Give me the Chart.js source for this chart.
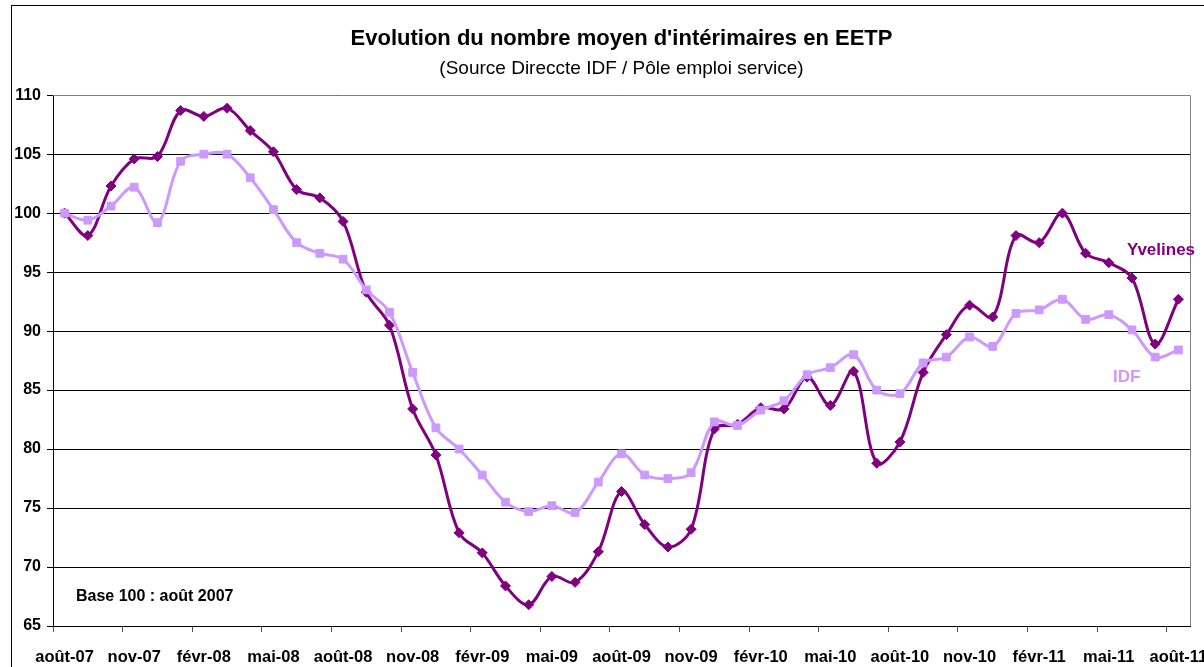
<!DOCTYPE html>
<html>
<head>
<meta charset="utf-8">
<script src="https://cdn.jsdelivr.net/npm/chart.js@4"></script>
<style>
  html, body { margin: 0; padding: 0; background: #fff; }
  #wrap { width: 1204px; height: 667px; }
</style>
</head>
<body>
<div id="wrap"><canvas id="chart" width="1204" height="667"></canvas></div>
<script>
// monthly, août-07 .. août-11
const months = [
  "août-07", "sept-07", "oct-07", "nov-07", "déc-07", "janv-08", "févr-08", "mars-08", "avr-08",
  "mai-08", "juin-08", "juil-08", "août-08", "sept-08", "oct-08", "nov-08", "déc-08", "janv-09",
  "févr-09", "mars-09", "avr-09", "mai-09", "juin-09", "juil-09", "août-09", "sept-09", "oct-09",
  "nov-09", "déc-09", "janv-10", "févr-10", "mars-10", "avr-10", "mai-10", "juin-10", "juil-10",
  "août-10", "sept-10", "oct-10", "nov-10", "déc-10", "janv-11", "févr-11", "mars-11", "avr-11",
  "mai-11", "juin-11", "juil-11", "août-11"
];

const yvelines = [
  100.0, 98.1, 102.3, 104.6, 104.8, 108.7, 108.2, 108.9, 107.0,
  105.2, 102.0, 101.3, 99.3, 93.3, 90.5, 83.4, 79.5, 72.9,
  71.2, 68.4, 66.8, 69.2, 68.7, 71.3, 76.4, 73.6, 71.7,
  73.2, 81.7, 82.1, 83.5, 83.4, 86.1, 83.7, 86.6, 78.8,
  80.6, 86.5, 89.7, 92.2, 91.2, 98.1, 97.5, 100.0, 96.6,
  95.8, 94.5, 88.9, 92.7
];

const idf = [
  100.0, 99.4, 100.6, 102.2, 99.2, 104.4, 105.0, 105.0, 103.0,
  100.3, 97.5, 96.6, 96.1, 93.5, 91.6, 86.5, 81.8, 80.0,
  77.8, 75.5, 74.7, 75.2, 74.6, 77.2, 79.6, 77.8, 77.5,
  78.0, 82.3, 82.0, 83.3, 84.1, 86.3, 86.9, 88.0, 85.0,
  84.7, 87.3, 87.8, 89.5, 88.7, 91.5, 91.8, 92.7, 91.0,
  91.4, 90.1, 87.8, 88.4
];

const yTicks = [65, 70, 75, 80, 85, 90, 95, 100, 105, 110];

const DARK = "#800080";
const LIGHT = "#CC99FF";
const FONT = "'Liberation Sans', Arial, sans-serif";

Chart.defaults.color = "#000";
Chart.defaults.font.family = FONT;

// outer frame + gray plot border + text notes
const decorations = {
  id: "decorations",
  beforeDraw(chart) {
    const ctx = chart.ctx;
    ctx.save();
    ctx.fillStyle = "#fff";
    ctx.fillRect(0, 0, chart.width, chart.height);
    ctx.strokeStyle = "#000";
    ctx.lineWidth = 1;
    ctx.strokeRect(11.5, 5.5, chart.width + 20, chart.height + 20);
    ctx.restore();
  },
  beforeDatasetsDraw(chart) {
    const { ctx, chartArea: a } = chart;
    ctx.save();
    ctx.strokeStyle = "#808080";
    ctx.lineWidth = 1;
    ctx.beginPath();
    ctx.moveTo(a.left, Math.round(a.top) + 0.5);
    ctx.lineTo(Math.round(a.right) + 0.5, Math.round(a.top) + 0.5);
    ctx.lineTo(Math.round(a.right) + 0.5, a.bottom);
    ctx.stroke();
    ctx.restore();
  },
  afterDatasetsDraw(chart) {
    const { ctx, chartArea: a } = chart;
    ctx.save();
    ctx.textBaseline = "middle";
    ctx.textAlign = "left";
    ctx.font = "bold 16px " + FONT;
    ctx.fillStyle = "#000";
    ctx.fillText("Base 100 : août 2007", a.left + 23, a.bottom - 29);
    ctx.font = "bold 17px " + FONT;
    ctx.fillStyle = DARK;
    ctx.fillText("Yvelines", a.right - 63, a.top + 155);
    ctx.fillStyle = LIGHT;
    ctx.fillText("IDF", a.right - 77, a.top + 282);
    ctx.restore();
  }
};

new Chart(document.getElementById("chart"), {
  type: "line",
  data: {
    labels: months,
    datasets: [
      {
        label: "IDF",
        data: idf,
        borderColor: LIGHT,
        backgroundColor: LIGHT,
        borderWidth: 3,
        pointStyle: "rect",
        pointRadius: 5.5,
        pointBorderWidth: 1,
        tension: 0.35,
        fill: false
      },
      {
        label: "Yvelines",
        data: yvelines,
        borderColor: DARK,
        backgroundColor: DARK,
        borderWidth: 3,
        pointStyle: "rectRot",
        pointRadius: 5,
        pointBorderWidth: 1,
        tension: 0.35,
        fill: false
      }
    ]
  },
  options: {
    responsive: false,
    animation: false,
    layout: { padding: { left: 0, right: 14, top: 0, bottom: 0 } },
    plugins: {
      legend: { display: false },
      tooltip: { enabled: false },
      // not full width: centred over the plot area, like the original
      title: {
        display: true,
        fullSize: false,
        text: "Evolution du nombre moyen d'intérimaires en EETP",
        font: { size: 22, weight: "bold" },
        color: "#000",
        padding: { top: 26, bottom: 4 }
      },
      subtitle: {
        display: true,
        fullSize: false,
        text: "(Source Direccte IDF / Pôle emploi service)",
        font: { size: 19 },
        color: "#000",
        padding: { top: 1, bottom: 15 }
      }
    },
    scales: {
      x: {
        offset: true,
        grid: {
          offset: true,
          drawOnChartArea: false,
          tickLength: 6,
          color: (c) => (c.index % 3 === 0 ? "#555" : "rgba(0,0,0,0)")
        },
        border: { color: "#000", width: 1 },
        ticks: {
          autoSkip: false,
          maxRotation: 0,
          padding: 16,
          font: { size: 16.5, weight: "bold" },
          callback: (v, i) => (i % 3 === 0 ? months[i] : "")
        },
        afterFit: (s) => { s.height = 41; s.paddingLeft = 0; s.paddingRight = 0; }
      },
      y: {
        min: 65,
        max: 110,
        afterBuildTicks: (s) => { s.ticks = yTicks.map((v) => ({ value: v })); },
        grid: { color: "#000", tickLength: 6 },
        border: { color: "#000", width: 1 },
        ticks: {
          padding: 6,
          font: { size: 16, weight: "bold" }
        },
        afterFit: (s) => { s.width = 53; }
      }
    }
  },
  plugins: [decorations]
});
</script>
</body>
</html>
